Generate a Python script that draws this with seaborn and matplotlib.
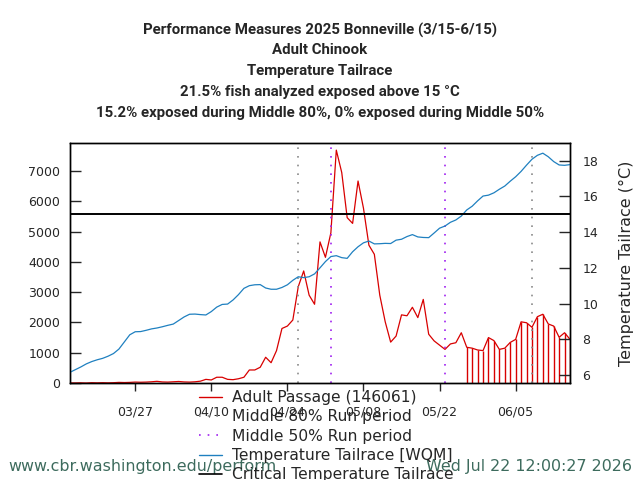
import os
import numpy as np
import pandas as pd
import matplotlib
matplotlib.use("Agg")
import matplotlib.pyplot as plt
import matplotlib.dates as mdates
from matplotlib.lines import Line2D
from matplotlib.font_manager import FontProperties, findfont
import seaborn as sns

# ---------------- data ----------------
start_date = "2025-03-15"
passage = [0, 0, 5, 0, 10, 5, 10, 5, 10, 20,
           15, 20, 30, 25, 30, 40, 55, 35, 30, 40,
           50, 35, 30, 40, 60, 120, 100, 190, 190, 120,
           110, 140, 190, 430, 430, 520, 850, 670, 1070, 1800,
           1880, 2080, 3180, 3700, 2900, 2600, 4660, 4150, 4960, 7690,
           6950, 5460, 5270, 6670, 5770, 4550, 4250, 2900, 2020, 1350,
           1550, 2250, 2220, 2500, 2160, 2760, 1610, 1390, 1250, 1110,
           1290, 1330, 1660, 1180, 1150, 1090, 1070, 1500, 1400, 1110,
           1150, 1340, 1440, 2020, 1990, 1840, 2190, 2270, 1950, 1880,
           1510, 1660, 1440]
temperature = [6.15, 6.3, 6.45, 6.62, 6.75, 6.85, 6.93, 7.05, 7.2, 7.45,
               7.85, 8.25, 8.42, 8.43, 8.5, 8.58, 8.63, 8.7, 8.78, 8.85,
               9.05, 9.25, 9.4, 9.41, 9.38, 9.36, 9.55, 9.8, 9.95, 9.97,
               10.2, 10.5, 10.85, 11.0, 11.05, 11.06, 10.87, 10.8, 10.8, 10.9,
               11.05, 11.3, 11.5, 11.45, 11.5, 11.66, 12.0, 12.35, 12.63, 12.68,
               12.57, 12.53, 12.9, 13.18, 13.4, 13.5, 13.34, 13.35, 13.37, 13.36,
               13.55, 13.6, 13.75, 13.86, 13.73, 13.7, 13.69, 13.95, 14.22, 14.34,
               14.55, 14.68, 14.9, 15.24, 15.45, 15.75, 16.02, 16.07, 16.2, 16.4,
               16.58, 16.85, 17.1, 17.4, 17.75, 18.08, 18.3, 18.42, 18.22, 17.95,
               17.76, 17.74, 17.78]
impulse_start = "2025-05-27"
middle80 = ["2025-04-26", "2025-06-08"]
middle50 = ["2025-05-02", "2025-05-23"]
critical_temp = 15
total_passage = 146061
xtick_dates = ["2025-03-27", "2025-04-10", "2025-04-24", "2025-05-08",
               "2025-05-22", "2025-06-05"]
x_range = ["2025-03-15", "2025-06-15"]
left_ticks = [0, 1000, 2000, 3000, 4000, 5000, 6000, 7000]
right_ticks = [6, 8, 10, 12, 14, 16, 18]
title_lines = ["Performance Measures 2025 Bonneville (3/15-6/15)",
               "Adult Chinook",
               "Temperature Tailrace",
               "21.5% fish analyzed exposed above 15 \u00b0C",
               "15.2% exposed during Middle 80%, 0% exposed during Middle 50%"]
footer_left = "www.cbr.washington.edu/perform"
footer_right = "Wed Jul 22 12:00:27 2026"

# ---------------- styling ----------------
sns.set_style("white")
plt.rcParams["font.family"] = ["DejaVu Sans"]

RED = "#d80000"
BLUE = "#1f80c0"
PURPLE = "#a020f0"
GRAY = "#8a8a8a"

dates = pd.date_range(start_date, periods=len(passage), freq="D")
df = pd.DataFrame({"date": dates, "passage": passage, "temp": temperature})

fig = plt.figure(figsize=(6.4, 4.8), dpi=100)
ax = fig.add_axes([70 / 640, 1 - 383 / 480, 500 / 640, 240 / 480])
ax2 = ax.twinx()

# passage line
sns.lineplot(data=df, x="date", y="passage", ax=ax, color=RED, lw=0.9,
             legend=False)
imp = df[df["date"] >= pd.Timestamp(impulse_start)]
ax.vlines(imp["date"], 0, imp["passage"], color=RED, lw=1.0)

# run period lines
for d in middle80:
    ax.axvline(pd.Timestamp(d), color=GRAY, lw=1.2, ls=(0, (1, 4.2)))
for d in middle50:
    ax.axvline(pd.Timestamp(d), color=PURPLE, lw=1.2, ls=(0, (1, 4.2)))

# temperature
sns.lineplot(data=df, x="date", y="temp", ax=ax2, color=BLUE, lw=0.9,
             legend=False)
ax2.axhline(critical_temp, color="black", lw=1.4)

ax.set_xlim(pd.Timestamp(x_range[0]), pd.Timestamp(x_range[1]))
ax.set_ylim(0, 7925)
ax2.set_ylim(5.55, 18.99)

ax.set_xticks([pd.Timestamp(d) for d in xtick_dates])
ax.xaxis.set_major_formatter(mdates.DateFormatter("%m/%d"))
ax.set_yticks(left_ticks)
ax2.set_yticks(right_ticks)

ax.set_xlabel("")
ax.set_ylabel("")
ax2.set_xlabel("")
ax2.set_ylabel("Temperature Tailrace (\u00b0C)", fontsize=11.5)
ax2.yaxis.set_label_coords(1.098, 0.5)

ax.tick_params(axis="x", direction="out", length=6, width=1, pad=10,
               labelsize=9, bottom=True)
ax.tick_params(axis="y", direction="in", length=8, width=1, pad=7,
               labelsize=9, left=True)
ax2.tick_params(axis="y", direction="in", length=8, width=1, pad=9,
                labelsize=9, right=True)

for a in (ax, ax2):
    for s in a.spines.values():
        s.set_color("black")
        s.set_linewidth(1.0)

# ---- title font: pick a bold sans whose proportions fit best ----
fig.canvas.draw()
renderer = fig.canvas.get_renderer()


def text_width(txt, fam, size):
    t = fig.text(0, 0, txt, fontsize=size, fontweight="bold",
                 family=[fam, "DejaVu Sans"])
    w = t.get_window_extent(renderer).width
    t.remove()
    return w


target1, target5 = 369.0, 435.0
best = ("DejaVu Sans", 9.0, 1e9)
for fam in ["Open Sans", "Noto Sans", "Lato", "Roboto", "Inter",
            "Liberation Sans", "DejaVu Sans"]:
    try:
        path = findfont(FontProperties(family=fam, weight="bold"),
                        fallback_to_default=False)
    except Exception:
        continue
    if "bold" not in os.path.basename(path).lower():
        continue
    w1 = text_width(title_lines[0], fam, 10)
    w5 = text_width(title_lines[4], fam, 10)
    size = 10 * (target1 + target5) / (w1 + w5)
    err = abs(w1 / w5 - target1 / target5)
    if err < best[2]:
        best = (fam, size, err)
title_family, title_size = best[0], best[1]

title_y = [30, 50, 71, 92, 113]
for t, y in zip(title_lines, title_y):
    fig.text(0.5, 1 - y / 480, t, ha="center", va="center",
             fontsize=title_size, fontweight="bold",
             family=[title_family, "DejaVu Sans"])

# legend
handles = [
    Line2D([], [], color=RED, lw=1.0),
    Line2D([], [], color=GRAY, lw=1.2, ls=(0, (1, 4.2))),
    Line2D([], [], color=PURPLE, lw=1.2, ls=(0, (1, 4.2))),
    Line2D([], [], color=BLUE, lw=1.0),
    Line2D([], [], color="black", lw=1.2),
]
labels = [f"Adult Passage ({total_passage})", "Middle 80% Run period",
          "Middle 50% Run period", "Temperature Tailrace [WQM]",
          "Critical Temperature Tailrace"]
fig.legend(handles, labels, loc="upper left",
           bbox_to_anchor=(199 / 640, 1 - 390 / 480), frameon=False,
           fontsize=11.2, labelspacing=0.28, handlelength=1.5,
           handletextpad=0.65, borderpad=0, borderaxespad=0)

# footer
FOOT = "#3d6b5d"
fig.text(8 / 640, 1 - 466 / 480, footer_left, ha="left", va="center",
         fontsize=11.4, color=FOOT)
fig.text(632 / 640, 1 - 466 / 480, footer_right, ha="right", va="center",
         fontsize=11.4, color=FOOT)

fig.savefig("out.png", dpi=100)
